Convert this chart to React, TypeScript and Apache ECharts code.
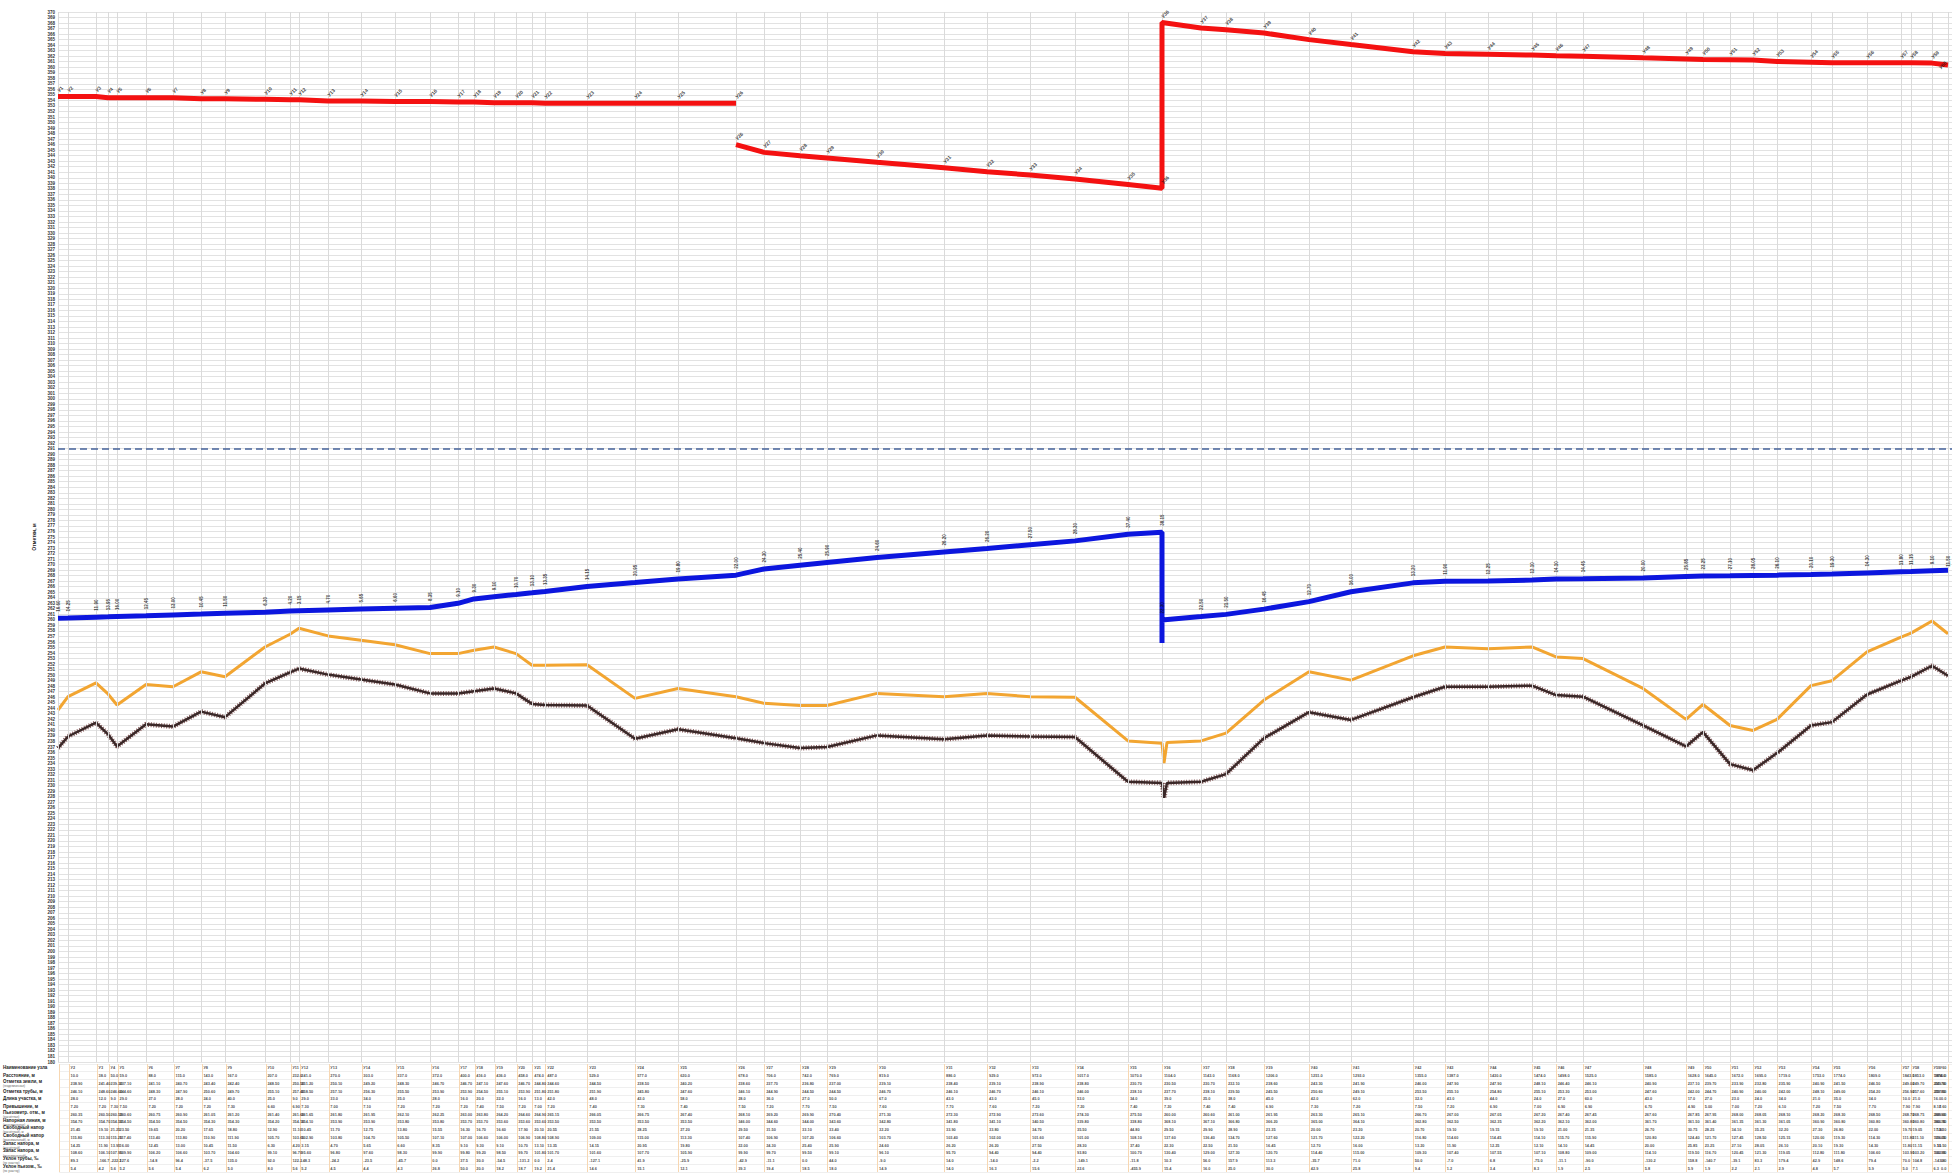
import React, { useEffect, useRef } from "react";
import * as echarts from "echarts";

// ---- Data (distance in m, elevations in m) ----
const nodeX = [0, 10, 38, 50, 59, 88, 115, 143, 167, 207, 232, 241, 270, 303, 337, 372, 400, 416, 436, 458, 474, 487, 529, 577, 620, 678, 706, 742, 769, 819, 886, 929, 972, 1017, 1070, 1104, 1143, 1168, 1206, 1251, 1293, 1355, 1387, 1430, 1474, 1498, 1525, 1585, 1628, 1645, 1672, 1695, 1719, 1753, 1774, 1809, 1843, 1853, 1874, 1890];
const nodeNames = nodeX.map((_, i) => `У${i + 1}`);

const ground = [236.8, 238.9, 241.4, 239.3, 237.1, 241.1, 240.7, 243.4, 242.4, 248.5, 250.5, 251.2, 250.1, 249.2, 248.3, 246.7, 246.7, 247.1, 247.6, 246.7, 244.8, 244.6, 244.5, 238.5, 240.2, 238.6, 237.7, 236.8, 237.0, 239.1, 238.4, 239.1, 238.9, 238.8, 230.7, 230.5, 230.7, 232.1, 238.6, 243.3, 241.9, 246.0, 247.9, 247.9, 248.1, 246.4, 246.1, 240.9, 237.1, 239.7, 233.9, 232.8, 235.9, 240.9, 241.5, 246.5, 249.0, 249.7, 251.7, 249.9];
const pipe = [243.7, 246.1, 248.6, 246.6, 244.6, 248.3, 247.9, 250.6, 249.7, 255.1, 257.4, 258.5, 257.1, 256.3, 255.5, 253.9, 253.9, 254.5, 255.1, 253.9, 251.8, 251.8, 251.9, 245.8, 247.6, 246.1, 244.9, 244.5, 244.5, 246.7, 246.1, 246.7, 246.1, 246.0, 238.1, 237.7, 238.1, 239.5, 245.5, 250.6, 249.1, 253.5, 255.1, 254.8, 255.1, 253.3, 253.0, 247.6, 242.0, 244.7, 240.9, 240.0, 242.0, 248.1, 249.0, 254.2, 256.9, 257.6, 259.8, 257.5];
const groundDip = [[1106, 227.8], [1109, 230.5]];
const pipeDip = [[1106, 234.1], [1109, 237.8]];

const DROP = 35; // node index of the station (head jump)
const RED_BREAK = 25;
const blueA = [260.3, 260.35, 260.5, 260.55, 260.6, 260.75, 260.9, 261.05, 261.2, 261.4, 261.6, 261.65, 261.8, 261.95, 262.1, 262.25, 263.0, 263.8, 264.2, 264.6, 264.9, 265.15, 266.05, 266.75, 267.4, 268.1, 269.2, 269.9, 270.4, 271.3, 272.3, 272.9, 273.6, 274.3, 275.5, 275.85];
const blueDropLow = 255.8;
const blueB = [260.0, 260.6, 261.0, 261.95, 263.3, 265.1, 266.7, 267.0, 267.05, 267.2, 267.4, 267.45, 267.6, 267.85, 267.95, 268.0, 268.05, 268.1, 268.2, 268.3, 268.5, 268.7, 268.75, 268.9, 269.0];
const redA = [354.7, 354.7, 354.7, 354.5, 354.5, 354.5, 354.5, 354.3, 354.3, 354.2, 354.1, 354.1, 353.9, 353.9, 353.8, 353.8, 353.7, 353.7, 353.6, 353.6, 353.6, 353.5, 353.5, 353.5, 353.5, 353.5];
const redB = [346.0, 344.6, 344.0, 343.6, 342.8, 341.8, 341.1, 340.5, 339.8, 338.8, 338.1];
const redC = [368.1, 367.1, 366.8, 366.2, 365.0, 364.1, 362.8, 362.5, 362.35, 362.2, 362.1, 362.0, 361.7, 361.5, 361.4, 361.35, 361.3, 361.05, 360.9, 360.8, 360.8, 360.8, 360.8, 360.75, 360.4];
const refLevel = 291;

const yMin = 180;
const yMax = 370;
const xMax = 1894;

const rowTitles = ["Наименование узла", "Расстояние, м", "Отметка земли, м", "Отметка трубы, м", "Длина участка, м", "Превышение, м", "Пьезометр. отм., м", "Напорная линия, м", "Свободный напор", "Свободный напор", "Запас напора, м", "Запас напора, м", "Уклон трубы, ‰", "Уклон пьезом., ‰"];
const rowSubs = ["", "", "(геодезическая)", "", "", "", "(расчётная)", "(максимальная)", "(расчётный), м", "(максимальный), м", "(расчётный)", "(максимальный)", "(по участку)", "(по участку)"];

// ---- helpers ----
const LAST = nodeX.length - 1;
const blueAt = (i: number) => (i < DROP ? blueA[i] : blueB[i - DROP]);
const redAt = (i: number) => (i < RED_BREAK ? redA[i] : i < DROP ? redB[i - RED_BREAK] : redC[i - DROP]);

function withDip(vals: number[], dip: number[][]) {
  const out: any[] = [];
  vals.forEach((v, i) => {
    out.push([nodeX[i], v]);
    if (i === DROP) dip.forEach((d) => out.push(d));
  });
  return out;
}

const groundData = withDip(ground, groundDip);
const pipeData = withDip(pipe, pipeDip);
const blueData = [
  ...blueA.map((v, i) => [nodeX[i], v]),
  [nodeX[DROP], blueDropLow],
  ...blueB.map((v, i) => [nodeX[DROP + i], v]),
];
const redDataA = redA.map((v, i) => [nodeX[i], v]);
const redDataBC = [
  ...redB.map((v, i) => [nodeX[RED_BREAK + i], v]),
  ...redC.map((v, i) => [nodeX[DROP + i], v]),
];

function labelItem(i: number, v: number, text: string, lastOffset: number[]) {
  const item: any = { value: [nodeX[i], v, text] };
  if (i === LAST) item.label = { offset: lastOffset };
  return item;
}

const redLabelData = [
  ...redA.map((v, i) => labelItem(i, v, nodeNames[i], [-12, 0])),
  ...redB.map((v, i) => labelItem(RED_BREAK + i, v, nodeNames[RED_BREAK + i], [-12, 0])),
  ...redC.map((v, i) => labelItem(DROP + i, v, nodeNames[DROP + i], [-12, 0])),
];
const blueLabelData = [
  ...blueA.map((v, i) => labelItem(i, v, (v - pipe[i]).toFixed(2), [-3, 0])),
  ...blueB.map((v, i) => labelItem(DROP + i, v, (v - pipe[DROP + i]).toFixed(2), [-3, 0])),
];

function cellText(row: number, i: number): string {
  const g = ground[i];
  const p = pipe[i];
  const b = blueAt(i);
  const r = redAt(i);
  const len = i < LAST ? nodeX[i + 1] - nodeX[i] : 0;
  switch (row) {
    case 0: return nodeNames[i];
    case 1: return nodeX[i].toFixed(1);
    case 2: return g.toFixed(2);
    case 3: return p.toFixed(2);
    case 4: return len.toFixed(1);
    case 5: return (p - g).toFixed(2);
    case 6: return b.toFixed(2);
    case 7: return r.toFixed(2);
    case 8: return (b - g).toFixed(2);
    case 9: return (r - g).toFixed(2);
    case 10: return (b - p).toFixed(2);
    case 11: return (r - p).toFixed(2);
    case 12: return len ? (((pipe[i + 1] - p) / len) * 1000).toFixed(1) : "0.0";
    default: return len ? (((blueAt(i + 1) - b) / len) * 1000).toFixed(1) : "0.0";
  }
}

// the table has one column per node after the start node
const tableData: any[] = [];
rowTitles.forEach((_, row) => {
  nodeX.forEach((x, i) => {
    if (i === 0) return;
    const item: any = { value: [x, row, cellText(row, i)] };
    if (i === LAST) item.label = { position: "left" };
    tableData.push(item);
  });
});

const FONT = "'Liberation Sans', Arial, sans-serif";

function buildOption(): any {
  return {
    animation: false,
    backgroundColor: "#ffffff",
    textStyle: { fontFamily: FONT },
    grid: [
      { left: 58, right: 0, top: 12, height: 1050 },
      { left: 58, right: 0, top: 1064, height: 108 },
    ],
    xAxis: [
      { type: "value", gridIndex: 0, min: 0, max: xMax, show: false },
      { type: "value", gridIndex: 1, min: 0, max: xMax, show: false },
    ],
    yAxis: [
      {
        type: "value",
        gridIndex: 0,
        min: yMin,
        max: yMax,
        interval: 1,
        name: "Отметки, м",
        nameLocation: "middle",
        nameGap: 13,
        nameRotate: 90,
        nameTextStyle: { fontSize: 5, fontWeight: "bold", color: "#222" },
        axisLine: { show: false },
        axisTick: { show: false },
        axisLabel: { fontSize: 4.5, color: "#333", margin: 3, fontWeight: "bold" },
        splitLine: { show: true, lineStyle: { color: "#e2e2e2", width: 1 } },
      },
      {
        type: "category",
        gridIndex: 1,
        inverse: true,
        data: rowTitles,
        axisLine: { show: false },
        axisTick: { show: false },
        splitLine: { show: true, interval: 0, lineStyle: { color: "#efefef" } },
        axisLabel: {
          interval: 0,
          align: "left",
          margin: 56,
          formatter: (v: string, idx: number) =>
            rowSubs[idx] ? `{a|${v}}\n{b|${rowSubs[idx]}}` : `{a|${v}}`,
          rich: {
            a: { fontSize: 4.5, fontWeight: "bold", color: "#222", lineHeight: 5 },
            b: { fontSize: 3, color: "#666", lineHeight: 3.5 },
          },
        },
      },
    ],
    series: [
      {
        name: "nodes",
        type: "line",
        xAxisIndex: 0,
        yAxisIndex: 0,
        data: [],
        silent: true,
        z: 1,
        markLine: {
          silent: true,
          symbol: ["none", "none"],
          label: { show: false },
          lineStyle: { color: "#dadada", width: 1, type: "solid" },
          data: [
            ...nodeX.map((x) => ({ xAxis: x })),
            { yAxis: refLevel, lineStyle: { color: "#46639a", width: 1.5, type: [7, 4] } },
          ],
        },
      },
      {
        name: "tableNodes",
        type: "line",
        xAxisIndex: 1,
        yAxisIndex: 1,
        data: [],
        silent: true,
        z: 1,
        markLine: {
          silent: true,
          symbol: ["none", "none"],
          label: { show: false },
          lineStyle: { color: "#f7d7b2", width: 1, type: "solid" },
          data: nodeX.map((x) => ({ xAxis: x })),
        },
      },
      {
        name: "groundHatch",
        type: "line",
        data: groundData,
        symbol: "none",
        silent: true,
        z: 3,
        lineStyle: { color: "#8a5e5e", width: 5, type: [1, 1.6] },
      },
      {
        name: "Земля",
        type: "line",
        data: groundData,
        symbol: "none",
        silent: true,
        z: 4,
        lineStyle: { color: "#3a2828", width: 2.5 },
      },
      {
        name: "Труба",
        type: "line",
        data: pipeData,
        symbol: "none",
        silent: true,
        z: 4,
        lineStyle: { color: "#f2a531", width: 3 },
      },
      {
        name: "Пьезометр",
        type: "line",
        data: blueData,
        symbol: "none",
        silent: true,
        z: 5,
        lineStyle: { color: "#0c16de", width: 5 },
      },
      {
        name: "Напор A",
        type: "line",
        data: redDataA,
        symbol: "none",
        silent: true,
        z: 5,
        lineStyle: { color: "#f41111", width: 5 },
      },
      {
        name: "Напор B",
        type: "line",
        data: redDataBC,
        symbol: "none",
        silent: true,
        z: 5,
        lineStyle: { color: "#f41111", width: 5 },
      },
      {
        name: "redLabels",
        type: "scatter",
        data: redLabelData,
        symbol: "circle",
        symbolSize: 1,
        silent: true,
        z: 6,
        itemStyle: { color: "rgba(0,0,0,0)" },
        label: {
          show: true,
          position: "top",
          distance: 5,
          rotate: 45,
          align: "left",
          verticalAlign: "middle",
          fontSize: 5,
          fontWeight: "bold",
          color: "#111",
          formatter: (p: any) => p.value[2],
        },
      },
      {
        name: "blueLabels",
        type: "scatter",
        data: blueLabelData,
        symbol: "circle",
        symbolSize: 1,
        silent: true,
        z: 6,
        itemStyle: { color: "rgba(0,0,0,0)" },
        label: {
          show: true,
          position: "top",
          distance: 6,
          rotate: 90,
          align: "left",
          verticalAlign: "middle",
          fontSize: 4.5,
          fontWeight: "bold",
          color: "#111",
          formatter: (p: any) => p.value[2],
        },
      },
      {
        name: "table",
        type: "scatter",
        xAxisIndex: 1,
        yAxisIndex: 1,
        data: tableData,
        symbol: "circle",
        symbolSize: 1,
        silent: true,
        z: 6,
        itemStyle: { color: "rgba(0,0,0,0)" },
        label: {
          show: true,
          position: "right",
          distance: 1,
          fontSize: 3.9,
          fontWeight: "bold",
          color: "#222",
          formatter: (p: any) => p.value[2],
        },
      },
    ],
  };
}

export default function App() {
  const ref = useRef<HTMLDivElement>(null);
  useEffect(() => {
    if (!ref.current) return;
    const chart = echarts.init(ref.current, null, { renderer: "svg" });
    chart.setOption(buildOption());
    return () => chart.dispose();
  }, []);
  return (
    <div
      ref={ref}
      style={{ position: "fixed", left: 0, top: 0, width: 1952, height: 1176, background: "#ffffff" }}
    />
  );
}
